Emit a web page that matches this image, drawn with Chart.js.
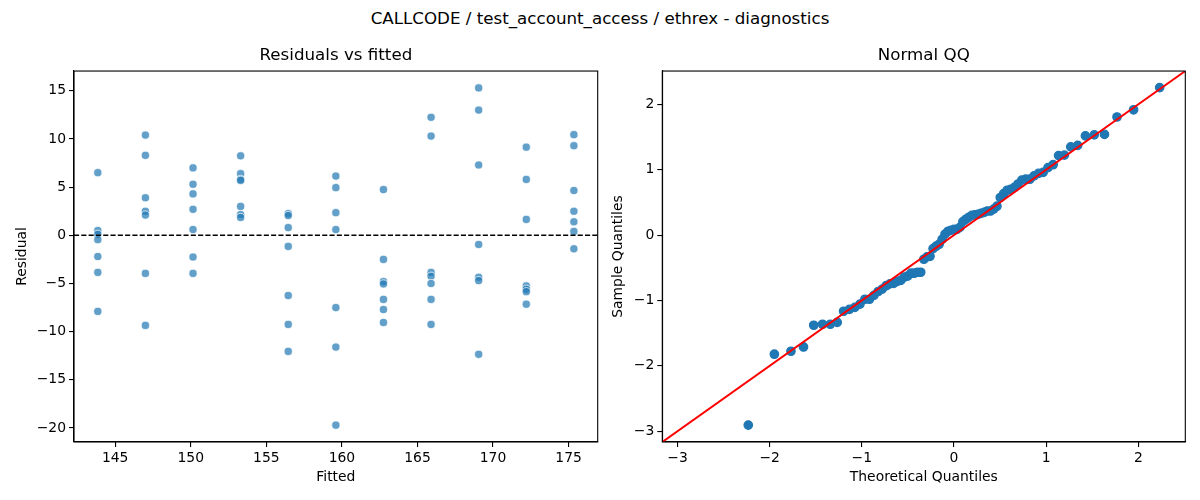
<!DOCTYPE html>
<html>
<head>
<meta charset="utf-8">
<script src="https://cdn.jsdelivr.net/npm/chart.js@4.4.1/dist/chart.umd.min.js"></script>
<style>
  html, body { margin: 0; padding: 0; background: #fff; }
  #fig { position: relative; width: 1200px; height: 500px; overflow: hidden; font-family: "DejaVu Sans", sans-serif; }
  #suptitle { position: absolute; left: 0; top: 7px; width: 1200px; text-align: center; font-size: 16.7px; line-height: 22px; color: #000; }
  canvas { position: absolute; top: 0; }
  #residChart { left: 0; }
  #qqChart { left: 605px; }
</style>
</head>
<body>
<div id="fig">
  <div id="suptitle">CALLCODE / test_account_access / ethrex - diagnostics</div>
  <canvas id="residChart" width="605" height="500"></canvas>
  <canvas id="qqChart" width="595" height="500"></canvas>
</div>
<script>
// --- data ---
const fittedLevels = [143.85, 147.0, 150.15, 153.3, 156.45, 159.6, 162.75, 165.9, 169.05, 172.2, 175.35];
const residualGroups = [
    [6.5, 0.5, 0.1, -0.45, -2.2, -3.85, -7.9],
    [10.4, 8.3, 3.9, 2.5, 2.1, -3.95, -9.35],
    [7.0, 5.3, 4.3, 2.7, 0.6, -2.25, -3.95],
    [8.25, 6.4, 5.8, 5.7, 3.0, 2.15, 1.85],
    [2.25, 2.05, 0.8, -1.15, -6.25, -9.25, -12.05],
    [6.15, 4.95, 2.35, 0.6, -7.5, -11.6, -19.7],
    [4.75, -2.5, -4.8, -5.05, -6.65, -7.7, -9.05],
    [12.25, 10.3, -3.85, -4.25, -5.0, -6.65, -9.25],
    [15.3, 13.0, 7.3, -0.95, -4.35, -4.7, -12.35],
    [9.15, 5.8, 1.65, -5.25, -5.6, -5.85, -7.15],
    [10.45, 9.3, 4.65, 2.5, 1.4, 0.4, -1.4]
];
const fittedLimits = [142.275, 176.925];
const residualLimits = [-21.45, 17.05];
const fittedTicks = [145, 150, 155, 160, 165, 170, 175];
const residualTicks = [-20, -15, -10, -5, 0, 5, 10, 15];

const qqTheoretical = [
    -2.232, -1.949, -1.769, -1.633, -1.522, -1.426, -1.342, -1.267, -1.198, -1.135,
    -1.076, -1.020, -0.967, -0.917, -0.869, -0.823, -0.779, -0.736, -0.695, -0.655,
    -0.615, -0.577, -0.539, -0.502, -0.466, -0.431, -0.396, -0.361, -0.327, -0.293,
    -0.260, -0.227, -0.194, -0.161, -0.129, -0.097, -0.064, -0.032, 0,
    0.032, 0.064, 0.097, 0.129, 0.161, 0.194, 0.227, 0.260, 0.293, 0.327,
    0.361, 0.396, 0.431, 0.466, 0.502, 0.539, 0.577, 0.615, 0.655, 0.695,
    0.736, 0.779, 0.823, 0.869, 0.917, 0.967, 1.020, 1.076, 1.135, 1.198,
    1.267, 1.342, 1.426, 1.522, 1.633, 1.769, 1.949, 2.232
];
const qqSample = [
    -2.906, -1.822, -1.777, -1.711, -1.379, -1.364, -1.364, -1.335, -1.165, -1.136,
    -1.106, -1.055, -0.981, -0.981, -0.922, -0.863, -0.826, -0.774, -0.745, -0.737,
    -0.708, -0.693, -0.642, -0.627, -0.583, -0.583, -0.568, -0.568, -0.369, -0.332,
    -0.324, -0.206, -0.170, -0.140, -0.066, 0.015, 0.059, 0.074, 0.088,
    0.088, 0.118, 0.206, 0.243, 0.273, 0.302, 0.310, 0.317, 0.332, 0.347,
    0.369, 0.369, 0.398, 0.442, 0.575, 0.634, 0.686, 0.701, 0.730, 0.782,
    0.841, 0.855, 0.855, 0.907, 0.944, 0.959, 1.032, 1.077, 1.217, 1.224,
    1.350, 1.372, 1.519, 1.534, 1.541, 1.807, 1.917, 2.257
];
const qqLimits = [-3.165, 2.51];
const qqTicks = [-3, -2, -1, 0, 1, 2];

// --- shared styling ---
const FONT = 'DejaVu Sans';
const tickFont = { family: FONT, size: 13.9 };
const minusFmt = (v) => (v < 0 ? '\u2212' + Math.abs(v) : String(v));

// box around the plot area, like matplotlib spines
const framePlugin = {
    id: 'frame',
    afterDraw(chart) {
        const { ctx, chartArea: a } = chart;
        ctx.save();
        ctx.strokeStyle = '#000';
        ctx.lineWidth = 1.1;
        ctx.strokeRect(a.left, a.top, a.right - a.left, a.bottom - a.top);
        ctx.restore();
    }
};

function makeAxis(limits, tickValues, label, fitSize, titlePad, horizontal) {
    return {
        type: 'linear',
        min: limits[0],
        max: limits[1],
        afterBuildTicks: (axis) => { axis.ticks = tickValues.map(v => ({ value: v })); },
        afterFit: (axis) => {
            if (horizontal) axis.height = fitSize; else axis.width = fitSize;
        },
        grid: { drawOnChartArea: false, drawTicks: true, tickLength: 5, color: '#000', lineWidth: 1.1 },
        border: { display: true, color: '#000', width: 1.1 },
        ticks: { font: tickFont, color: '#000', padding: 3, maxRotation: 0, autoSkip: false, callback: minusFmt },
        title: { display: true, text: label, color: '#000', font: tickFont, padding: titlePad }
    };
}

function makeTitle(text) {
    return {
        display: true,
        text: text,
        fullSize: false,
        color: '#000',
        font: { family: FONT, size: 16.7, weight: 'normal' },
        padding: { top: 46, bottom: 5 }
    };
}

// --- residuals vs fitted ---
const residPoints = [];
fittedLevels.forEach((f, i) => {
    residualGroups[i].forEach(r => residPoints.push({ x: f, y: r }));
});

new Chart(document.getElementById('residChart').getContext('2d'), {
    type: 'scatter',
    data: {
        datasets: [
            {
                data: [{ x: fittedLimits[0], y: 0 }, { x: fittedLimits[1], y: 0 }],
                showLine: true,
                borderColor: '#000',
                borderWidth: 1.4,
                borderDash: [5.1, 2.2],
                pointRadius: 0,
                order: 0
            },
            {
                data: residPoints,
                backgroundColor: 'rgba(31, 119, 180, 0.7)',
                borderColor: 'rgba(255, 255, 255, 0.7)',
                borderWidth: 1,
                pointRadius: 4.1,
                order: 1
            }
        ]
    },
    options: {
        responsive: false,
        animation: false,
        devicePixelRatio: 1,
        layout: { padding: { left: 0, right: 7.3, top: 0, bottom: 0 } },
        plugins: {
            legend: { display: false },
            tooltip: { enabled: false },
            title: makeTitle('Residuals vs fitted')
        },
        scales: {
            x: makeAxis(fittedLimits, fittedTicks, 'Fitted', 58, { top: 0, bottom: 14 }, true),
            y: makeAxis(residualLimits, residualTicks, 'Residual', 74, { top: 13.7, bottom: 0 }, false)
        }
    },
    plugins: [framePlugin]
});

// --- normal QQ ---
const qqPoints = qqTheoretical.map((t, i) => ({ x: t, y: qqSample[i] }));

new Chart(document.getElementById('qqChart').getContext('2d'), {
    type: 'scatter',
    data: {
        datasets: [
            {
                data: [{ x: qqLimits[0], y: qqLimits[0] }, { x: qqLimits[1], y: qqLimits[1] }],
                showLine: true,
                borderColor: '#ff0000',
                borderWidth: 2,
                pointRadius: 0,
                order: 0
            },
            {
                data: qqPoints,
                backgroundColor: '#1f77b4',
                borderColor: '#1f77b4',
                borderWidth: 1.3,
                pointRadius: 4.2,
                order: 1
            }
        ]
    },
    options: {
        responsive: false,
        animation: false,
        devicePixelRatio: 1,
        layout: { padding: { left: 0, right: 14.7, top: 0, bottom: 0 } },
        plugins: {
            legend: { display: false },
            tooltip: { enabled: false },
            title: makeTitle('Normal QQ')
        },
        scales: {
            x: makeAxis(qqLimits, qqTicks, 'Theoretical Quantiles', 58, { top: 0, bottom: 14 }, true),
            y: makeAxis(qqLimits, qqTicks, 'Sample Quantiles', 57.3, { top: 4.65, bottom: 0 }, false)
        }
    },
    plugins: [framePlugin]
});
</script>
</body>
</html>
